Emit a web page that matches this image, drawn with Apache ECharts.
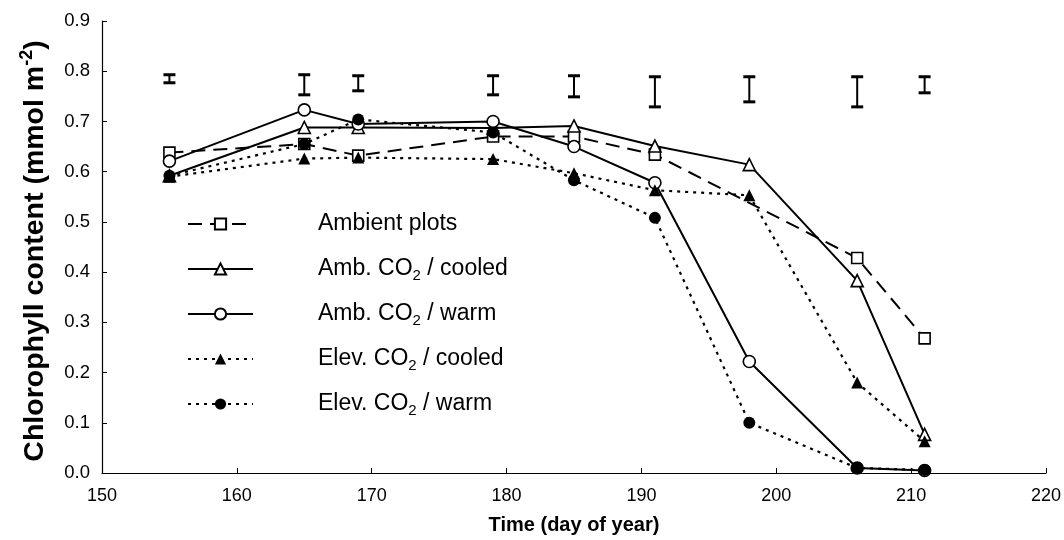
<!DOCTYPE html>
<html>
<head>
<meta charset="utf-8">
<script src="https://cdn.jsdelivr.net/npm/echarts@6/dist/echarts.min.js"></script>
<style>
  html, body { margin: 0; padding: 0; background: #fff; }
  #chart { width: 1064px; height: 540px; }
</style>
</head>
<body>
<div id="chart"></div>
<script>
// Sampling dates (day of year)
const days = [155, 165, 169, 179, 185, 191, 198, 206, 211];

// Chlorophyll content per treatment (mmol m-2); null = not sampled
const ambientPlots = [0.638, 0.655, 0.632, 0.670, 0.670, 0.634, null, 0.428, 0.268];
const ambCooled    = [0.592, 0.688, 0.688, 0.687, 0.691, 0.651, 0.614, 0.383, 0.077];
const ambWarm      = [0.621, 0.723, 0.695, 0.700, 0.650, 0.578, 0.222, 0.010, 0.005];
const elevCooled   = [0.590, 0.626, 0.628, 0.625, 0.597, 0.563, 0.553, 0.180, 0.063];
const elevWarm     = [0.592, 0.655, 0.704, 0.678, 0.583, 0.508, 0.100, 0.010, 0.006];

// LSD bars drawn above the curves
const lsdHigh = [0.793, 0.793, 0.791, 0.791, 0.791, 0.789, 0.789, 0.789, 0.789];
const lsdLow  = [0.777, 0.753, 0.761, 0.753, 0.749, 0.729, 0.739, 0.729, 0.757];

// Axis ranges
const xTicks = { min: 150, max: 220, step: 10 };
const yTicks = { min: 0, max: 0.9, step: 0.1 };

const seriesNames = ['Ambient plots', 'Amb. CO2 / cooled', 'Amb. CO2 / warm', 'Elev. CO2 / cooled', 'Elev. CO2 / warm'];

const FONT = '"Liberation Sans", Arial, sans-serif';

function pairs(values) {
  return days.map((d, i) => [d, values[i]]);
}

function lineSeries(name, values, symbol, size, filled, dash, lineWidth) {
  return {
    type: 'line',
    name: name,
    data: pairs(values),
    connectNulls: true,
    symbol: symbol,
    symbolSize: size,
    showAllSymbol: true,
    lineStyle: { color: '#000', width: lineWidth, type: dash },
    itemStyle: {
      color: filled ? '#000' : '#fff',
      borderColor: '#000',
      borderWidth: filled ? 0 : 1.6
    },
    emphasis: { disabled: true },
    z: 3
  };
}

const chart = echarts.init(document.getElementById('chart'), null, { renderer: 'canvas' });

chart.setOption({
  animation: false,
  backgroundColor: '#fff',
  textStyle: { fontFamily: FONT, color: '#000' },
  grid: { left: 102, right: 13, top: 21, bottom: 66, containLabel: false },
  xAxis: {
    type: 'value',
    min: xTicks.min,
    max: xTicks.max,
    interval: xTicks.step,
    name: 'Time (day of year)',
    nameLocation: 'middle',
    nameGap: 42,
    nameTextStyle: { fontFamily: FONT, fontSize: 20, fontWeight: 'bold', color: '#000' },
    axisLine: { lineStyle: { color: '#000', width: 1.2 } },
    axisTick: { inside: true, length: 5, lineStyle: { color: '#000', width: 1 } },
    axisLabel: { fontFamily: FONT, fontSize: 18, color: '#000', margin: 14 },
    splitLine: { show: false }
  },
  yAxis: {
    type: 'value',
    min: yTicks.min,
    max: yTicks.max,
    interval: yTicks.step,
    name: 'Chlorophyll content (mmol m{sup|-2})',
    nameLocation: 'middle',
    nameGap: 50,
    nameTextStyle: {
      fontFamily: FONT, fontSize: 28.5, fontWeight: 'bold', color: '#000', lineHeight: 34,
      padding: [0, 8, 0, 0],
      rich: {
        sup: { fontFamily: FONT, fontSize: 18, fontWeight: 'bold', color: '#000', lineHeight: 16, verticalAlign: 'top' }
      }
    },
    axisLine: { show: true, lineStyle: { color: '#000', width: 1.2 } },
    axisTick: { show: true, inside: true, length: 5, lineStyle: { color: '#000', width: 1 } },
    axisLabel: {
      fontFamily: FONT, fontSize: 18.5, color: '#000', margin: 12,
      formatter: v => v.toFixed(1)
    },
    splitLine: { show: false }
  },
  legend: {
    data: seriesNames,
    orient: 'vertical',
    left: 182,
    top: 205,
    itemWidth: 65,
    itemHeight: 14,
    itemGap: 17,
    selectedMode: false,
    textStyle: {
      fontFamily: FONT, fontSize: 23, color: '#000', lineHeight: 28,
      rich: {
        pad: { width: 60 },
        s: { fontFamily: FONT, fontSize: 15, color: '#000', lineHeight: 12, verticalAlign: 'bottom' }
      }
    },
    formatter: name => '{pad|}' + name.replace('CO2', 'CO{s|2}')
  },
  series: [
    {
      type: 'custom',
      name: 'LSD',
      silent: true,
      data: days.map((d, i) => [d, lsdHigh[i], lsdLow[i]]),
      encode: { x: 0, y: [1, 2] },
      renderItem: (params, api) => {
        const x = api.value(0);
        const top = api.coord([x, api.value(1)]);
        const bot = api.coord([x, api.value(2)]);
        const half = 6;
        const stroke = { stroke: '#000', lineWidth: 3 };
        return {
          type: 'group',
          children: [
            { type: 'line', shape: { x1: top[0], y1: top[1], x2: bot[0], y2: bot[1] }, style: { stroke: '#000', lineWidth: 2 } },
            { type: 'line', shape: { x1: top[0] - half, y1: top[1], x2: top[0] + half, y2: top[1] }, style: stroke },
            { type: 'line', shape: { x1: bot[0] - half, y1: bot[1], x2: bot[0] + half, y2: bot[1] }, style: stroke }
          ]
        };
      },
      z: 2
    },
    lineSeries(seriesNames[0], ambientPlots, 'rect', 11, false, [14, 8], 2),
    lineSeries(seriesNames[1], ambCooled, 'triangle', 12, false, 'solid', 2),
    lineSeries(seriesNames[2], ambWarm, 'circle', 12, false, 'solid', 2),
    lineSeries(seriesNames[3], elevCooled, 'triangle', 12, true, [3, 5], 2.2),
    lineSeries(seriesNames[4], elevWarm, 'circle', 12, true, [3, 5], 2.2)
  ]
});
</script>
</body>
</html>
